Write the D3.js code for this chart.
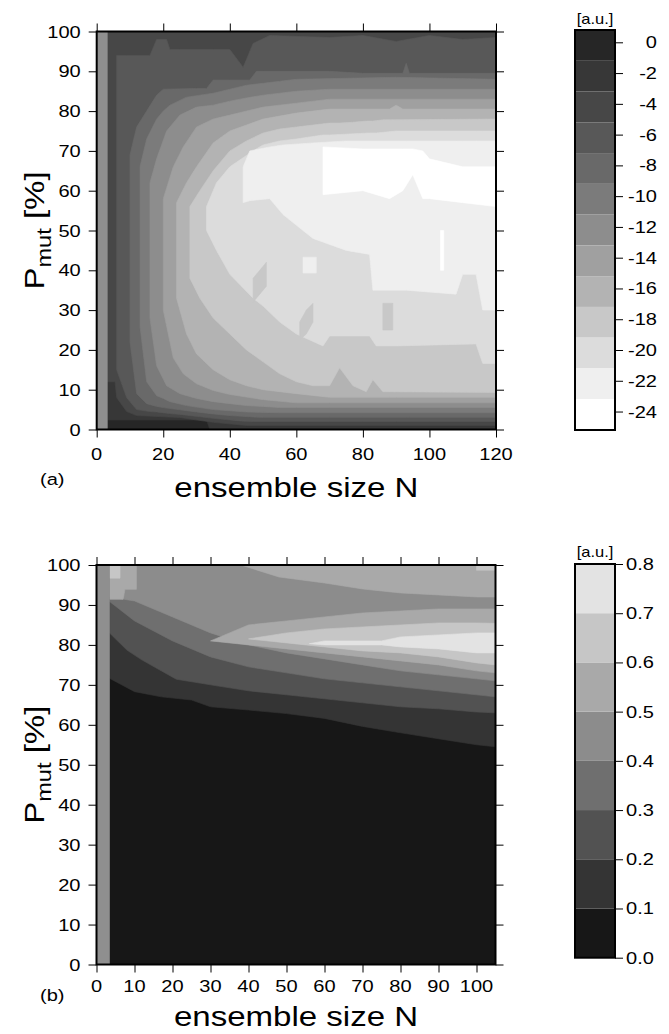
<!DOCTYPE html>
<html><head><meta charset="utf-8">
<script src="https://cdn.jsdelivr.net/npm/d3@7"></script>
<style>
body{margin:0;background:#fff}
text{font-family:"Liberation Sans",Arial,Helvetica,sans-serif;fill:#000}
</style>
</head><body>
<svg id="c" width="669" height="1034" xmlns="http://www.w3.org/2000/svg"></svg>
<script>
// ---------------- DATA ----------------
// Panel (a): colour bands (level index 0 = darkest, value 0 ... 12 = white, value -24)
const greysA = ["#262626","#373737","#474747","#585858","#696969","#7b7b7b","#8d8d8d","#a0a0a0","#b3b3b3","#c8c8c8","#dcdcdc","#efefef","#ffffff"];
const cbEdgesA = [0.8,-1.2,-3.2,-5.2,-7.2,-9.2,-11.2,-13.2,-15.2,-17.2,-19.2,-21.2,-23.2,-25.2];
const cbTicksA = [0,-2,-4,-6,-8,-10,-12,-14,-16,-18,-20,-22,-24];
const xTicksA = [0,20,40,60,80,100,120];
const yTicks = [0,10,20,30,40,50,60,70,80,90,100];
const missingA = [0,3.3];
// zones: [N, P lower edge, P upper edge] of the region at or above a level
const a_L1 = [[3.3,2.4,100],[33,2.4,100],[34,0,100],[120,0,100]];
const a_L2 = [[3.3,12,100],[5.5,12,100],[6,8,100],[9,4.5,100],[12,3.5,100],[25,3,100],[35,1.8,100],[45,1,100],[120,1,100]];
const a_L3 = [[6,15,94],[9,8,94],[12,5,94],[16,4.5,94],[18,4.4,98],[21,4.1,98],[22,4,95.5],[25,3.8,95.5],[35,2.8,95.5],[40,2.4,95.5],[44,2.1,91],[47,2,97],[52,2,99],[70,2,98.5],[80,2,99],[90,2,97.5],[100,2,99],[110,2,98],[120,2,98.5]];
const a_L4 = [[10,22,69],[12,9,76],[15,6.5,80],[18,5.8,84],[20,5.5,85.5],[30,4.4,85.7],[33,4.1,85.7],[35,3.9,87.8],[40,3.5,87.8],[46,3.2,87.8],[48,3.1,90],[50,3.05,90],[70,3.05,90],[80,3.05,89.5],[92,3.05,89.5],[93,3.05,92],[94,3.05,89.5],[120,3.05,89.5]];
const a_L5 = [[13,26,66],[15,12,73],[18,8.5,78],[20,7.8,80],[22,7,81.5],[27,6,83.5],[35,5,84.5],[40,4.7,85.5],[45,4.4,86.5],[50,4.3,87],[55,4.2,87.5],[60,4.2,88],[90,4.2,88.5],[120,4.2,88]];
const a_L6 = [[16,28,62],[18,16,68],[21,11,75],[25,9,79],[30,7.8,81],[35,7,81.5],[40,6.5,82.5],[45,6,83.3],[50,5.8,84],[55,5.5,84.5],[60,5.5,85],[70,5.5,85.5],[120,5.5,85.5]];
const a_L7 = [[20,30,58],[23,18,66],[26,14,71],[30,11.5,76],[35,9.8,78],[40,8.8,79],[50,7.5,81],[60,6.7,82],[70,6.7,83],[120,6.7,83]];
const a_L8 = [[24,33,57],[27,24,62],[30,19,66],[35,15,72],[40,12.5,75],[45,11,76.5],[50,10,78],[60,9,79.5],[70,8.1,80.5],[88,8.1,80.5],[90,8.1,81.5],[92,8.1,80.5],[120,8.1,80.5]];
const a_L9 = [[28,38,56],[31,33,60],[35,28,65],[40,24,70],[45,20,72.5],[50,17,74.5],[55,14,75.5],[60,12,76],[65,11,76.5],[70,11,77],[73,15.5,77],[77,11,77.2],[81,9.5,77.5],[83,12.5,77.5],[86,9.5,77.8],[120,9.3,78]];
const a_L10 = [[33,50,56],[36,45,62],[40,39,66],[47,33,70],[50,31,71.5],[55,27,72.5],[60,24,73],[68,21,74],[70,23.5,74],[82,23.5,74.5],[84,21,74.5],[90,21,75],[114,21.5,75],[116,16.6,75],[120,16.6,75]];
const a_L11 = [[44,57,66],[46,57.5,70],[52,58,71],[56,54,71.5],[65,48,72],[75,45,72.5],[82,44,72.5],[83,35,72.5],[93,35,72.5],[108,34,72.5],[110,39,72.5],[114,39,72.5],[116,30,72.5],[120,30,72.5]];
const a_L12 = [[68,59,71],[80,60,70.5],[88,58,70.5],[92,60,70.5],[95,64,70.5],[98,58,70],[100,58,68],[110,57,66],[120,56,66]];
// small islands inside the bands
const a_isl9a = [[61,22.5,27],[63,24,30],[65,27,31.7]];
const a_isl9b = [[86,25,31.7],[89,25,31.7]];
const a_isl9c = [[47,32,38],[49,34,40],[51,36,42]];
const a_isl11 = [[62,39.3,43.3],[66,39.3,43.3]];
const a_isl12 = [[103.3,40,50],[104.3,40,50]];

// Panel (b): colour bands (level 0 = 0.0-0.1 ... 7 = 0.7-0.8)
const greysB = ["#171717","#343434","#525252","#6f6f6f","#8c8c8c","#a9a9a9","#c6c6c6","#e3e3e3"];
const cbEdgesB = [0,0.1,0.2,0.3,0.4,0.5,0.6,0.7,0.8];
const cbTicksB = [0,0.1,0.2,0.3,0.4,0.5,0.6,0.7,0.8];
const xTicksB = [0,10,20,30,40,50,60,70,80,90,100];
const missingB = [0,3.5];
const b_L1 = [[3.5,71.6,100],[10,68.3,100],[17,67,100],[25,66.2,100],[30,64.5,100],[40,63.7,100],[50,62.8,100],[60,61.6,100],[70,59.6,100],[80,58,100],[92,56.2,100],[100,55,100],[105,54.5,100]];
const b_L2 = [[3.5,82.9,100],[8,78.7,100],[12,76.2,100],[21,71.4,100],[30,70,100],[40,68.5,100],[50,67.5,100],[60,66.5,100],[70,65.5,100],[80,64.5,100],[90,64,100],[100,63.2,100],[105,63,100]];
const b_L3 = [[3.5,90.8,100],[10,86,100],[20,81,100],[30,77,100],[40,74.5,100],[50,73,100],[60,71.5,100],[70,70.5,100],[80,69.5,100],[90,68.5,100],[100,67.5,100],[105,67,100]];
const b_L4 = [[3.5,92,100],[10,91,100],[20,87,100],[30,83,100],[40,80,100],[50,78,100],[60,76.5,100],[70,75,100],[80,73.5,100],[90,72.5,100],[100,71.5,100],[105,71,100]];
const b_L5ridge = [[30,81,81],[40,80,85],[50,79,86],[60,78,87],[70,77,88],[80,76,88.5],[90,75,89],[100,73.5,89],[105,73,89]];
const b_L6ridge = [[40,81.5,81.5],[50,80.5,83],[60,79.5,84],[70,78.5,84.5],[80,78,85],[90,77,85.5],[100,75.5,85.5],[105,75,85.4]];
const b_L7ridge = [[56,80.3,80.3],[60,80,81],[75,80,81],[80,79.5,82],[90,79,82.5],[100,78,83],[105,78,83]];
const b_L5left = [[3.5,91.4,100],[7,91.4,100],[7.5,93.9,100],[10.5,93.9,100]];
const b_L5top = [[38,100,100],[48,97,100],[60,95.5,100],[70,94,100],[80,93,100],[90,92.5,100],[100,92,100],[105,92,100]];
const b_L6left = [[3.5,96.7,100],[6.2,96.7,100]];
const b_L6top = [[100,98.7,100],[105,98.7,100]];

// zone draw order (painter's order) built from the arrays above
const zonesA = [[1,a_L1],[2,a_L2],[3,a_L3],[4,a_L4],[5,a_L5],[6,a_L6],[7,a_L7],[8,a_L8],[9,a_L9],[10,a_L10],[11,a_L11],[12,a_L12],
                [9,a_isl9a],[9,a_isl9b],[9,a_isl9c],[11,a_isl11],[12,a_isl12]];
const zonesB = [[1,b_L1],[2,b_L2],[3,b_L3],[4,b_L4],[5,b_L5ridge],[6,b_L6ridge],[7,b_L7ridge],[5,b_L5left],[5,b_L5top],[6,b_L6left],[6,b_L6top]];

// ---------------- DRAW ----------------
const svg = d3.select("#c");
const SX = 1.18; // horizontal stretch of the lettering in the reference

function stretchedText(g, x, y, str, size, anchor) {
  return g.append("text")
    .attr("transform", `translate(${x},${y}) scale(${SX},1)`)
    .attr("font-size", size)
    .attr("text-anchor", anchor || "start")
    .text(str);
}

function panel(o) {
  const x = d3.scaleLinear().domain(o.xDom).range(o.xR);
  const y = d3.scaleLinear().domain([0,100]).range(o.yR);
  const g = svg.append("g");
  const clipId = "clip" + o.id;
  svg.append("clipPath").attr("id", clipId).append("rect")
    .attr("x", o.xR[0]).attr("y", o.yR[1]).attr("width", o.xR[1]-o.xR[0]).attr("height", o.yR[0]-o.yR[1]);
  const heat = g.append("g").attr("clip-path", `url(#${clipId})`);
  heat.append("rect").attr("x", o.xR[0]).attr("y", o.yR[1]).attr("width", o.xR[1]-o.xR[0]).attr("height", o.yR[0]-o.yR[1]).attr("fill", o.greys[0]);
  const area = d3.area().x(d => x(d[0])).y0(d => y(d[1])).y1(d => y(d[2])).curve(d3.curveLinear);
  heat.selectAll("path.z").data(o.zones).join("path")
    .attr("d", d => area(d[1])).attr("fill", d => o.greys[d[0]])
    .attr("stroke", d => o.greys[d[0]]).attr("stroke-width", 0.6);
  heat.append("rect").attr("x", x(o.missing[0])).attr("y", o.yR[1])
    .attr("width", x(o.missing[1]) - x(o.missing[0])).attr("height", o.yR[0]-o.yR[1]).attr("fill", "#8f8f8f");

  // axes with outward ticks on all four sides
  const axL = d3.axisLeft(y).tickValues(yTicks).tickSize(8).tickFormat("");
  const axR = d3.axisRight(y).tickValues(yTicks).tickSize(8).tickFormat("");
  const axB = d3.axisBottom(x).tickValues(o.xTicks).tickSize(8).tickFormat("");
  const axT = d3.axisTop(x).tickValues(o.xTicks).tickSize(8).tickFormat("");
  [[axL,`translate(${o.xR[0]},0)`],[axR,`translate(${o.xR[1]},0)`],[axB,`translate(0,${o.yR[0]})`],[axT,`translate(0,${o.yR[1]})`]].forEach(([ax,tr]) => {
    const a = g.append("g").attr("transform", tr).call(ax);
    a.select(".domain").remove();
    a.selectAll("line").attr("stroke", "#000").attr("stroke-width", 1);
  });
  g.append("rect").attr("x", o.xR[0]).attr("y", o.yR[1]).attr("width", o.xR[1]-o.xR[0]).attr("height", o.yR[0]-o.yR[1])
    .attr("fill", "none").attr("stroke", "#000").attr("stroke-width", 2);

  // tick labels
  yTicks.forEach(v => stretchedText(g, o.xR[0]-16, y(v)+6, String(v), 17, "end"));
  o.xTicks.forEach(v => stretchedText(g, x(v), o.yR[0]+o.xLabDy, String(v), 17, "middle"));

  // axis titles
  stretchedText(g, (o.xR[0]+o.xR[1])/2, o.yR[0]+o.xTitleDy, "ensemble size N", 28, "middle");
  const yt = g.append("text")
    .attr("transform", `translate(44,${(o.yR[0]+o.yR[1])/2}) rotate(-90) scale(${SX},1)`)
    .attr("text-anchor", "middle").attr("font-size", 28);
  yt.append("tspan").text("P");
  yt.append("tspan").attr("font-size", 20).attr("dy", 7).text("mut");
  yt.append("tspan").attr("dy", -7).text(" [%]");
  stretchedText(g, 40, o.yR[0]+o.labDy, o.label, 17, "start");

  // colour bar
  const cy = d3.scaleLinear().domain(o.cbDom).range(o.cbR);
  const cb = svg.append("g");
  const bands = d3.pairs(o.cbEdges);
  cb.selectAll("rect.b").data(bands).join("rect")
    .attr("x", 575).attr("width", 40)
    .attr("y", d => Math.min(cy(d[0]), cy(d[1])))
    .attr("height", d => Math.abs(cy(d[1]) - cy(d[0])))
    .attr("fill", (d, i) => o.cbColor(i));
  cb.append("rect").attr("x", 575).attr("width", 40).attr("y", Math.min(o.cbR[0], o.cbR[1]))
    .attr("height", Math.abs(o.cbR[1]-o.cbR[0])).attr("fill", "none").attr("stroke", "#000").attr("stroke-width", 2);
  const axC = d3.axisRight(cy).tickValues(o.cbTicks).tickSize(8).tickFormat("");
  const ac = cb.append("g").attr("transform", "translate(615,0)").call(axC);
  ac.select(".domain").remove();
  ac.selectAll("line").attr("stroke", "#000");
  o.cbTicks.forEach(v => stretchedText(cb, o.cbLabX, cy(v)+6, o.cbFmt(v), 17, o.cbAnchor));
  stretchedText(cb, 595, o.auY, "[a.u.]", 14, "middle");
}

panel({
  id: "a", xDom: [0,120], xR: [96.7, 496], yR: [429.5, 31.5], zones: zonesA, greys: greysA,
  missing: missingA, xTicks: xTicksA, label: "(a)", xLabDy: 30, xTitleDy: 67, labDy: 55,
  cbDom: [0.8, -25.2], cbR: [30, 430], cbEdges: cbEdgesA, cbTicks: cbTicksA,
  cbColor: i => greysA[i], cbFmt: v => String(v), cbLabX: 657, cbAnchor: "end", auY: 24
});
panel({
  id: "b", xDom: [0,105], xR: [96.5, 495.5], yR: [964.5, 565], zones: zonesB, greys: greysB,
  missing: missingB, xTicks: xTicksB, label: "(b)", xLabDy: 27, xTitleDy: 61, labDy: 36,
  cbDom: [0, 0.8], cbR: [957.7, 564], cbEdges: cbEdgesB, cbTicks: cbTicksB,
  cbColor: i => greysB[i], cbFmt: v => v.toFixed(1), cbLabX: 626, cbAnchor: "start", auY: 557
});
</script>
</body></html>
